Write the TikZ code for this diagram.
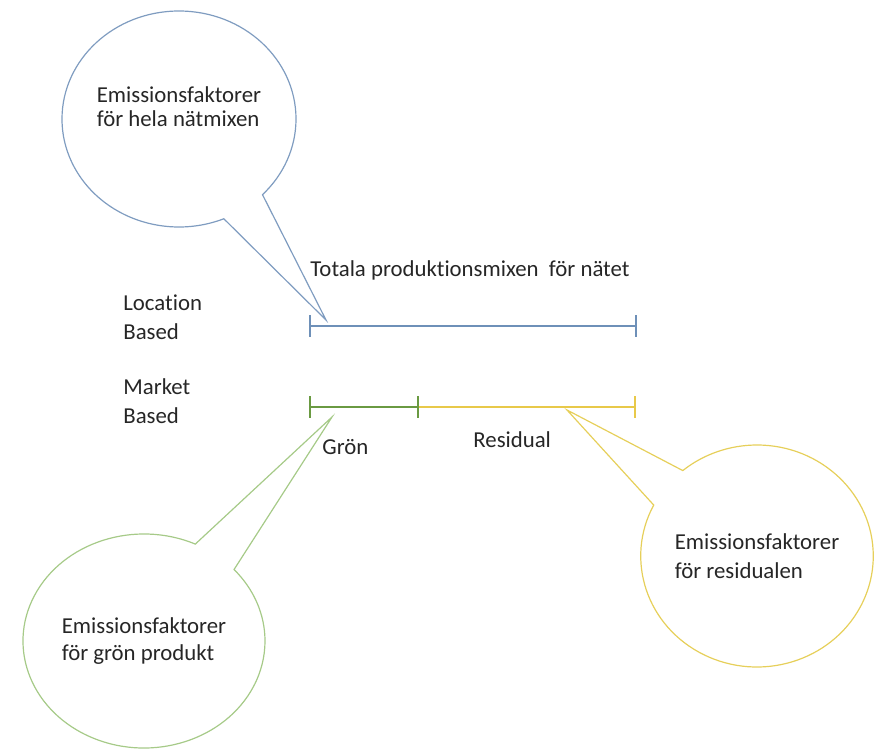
\documentclass[tikz,border=0pt]{standalone}
\usepackage{fontspec}
\setmainfont[Ligatures=NoCommon]{Carlito}
\usetikzlibrary{shapes.callouts}

\definecolor{lineblue}{HTML}{6E90B8}
\definecolor{linegreen}{HTML}{6A9A42}
\definecolor{lineyellow}{HTML}{E8C94A}
\definecolor{bubbleblue}{HTML}{7F9CC0}
\definecolor{bubblegreen}{HTML}{A6CA88}
\definecolor{bubbleyellow}{HTML}{E6CF5A}
\definecolor{textgray}{HTML}{262626}

\tikzset{
  label text/.style={text=textgray, inner sep=0pt, align=left, font=\fontsize{11.4}{14.5}\selectfont},
  bubble/.style={ellipse callout, line width=0.6pt, inner sep=0pt, align=left,
    text=textgray, callout pointer arc=23},
  scale bar/.style={line width=1.4pt}
}

\begin{document}
\begin{tikzpicture}[x=0.5pt, y=-0.5pt]
\useasboundingbox (0,0) rectangle (884,750);

% Location based line (blue)
\coordinate (loc-start) at (310,326);
\coordinate (loc-end) at (636,326);
\draw[scale bar, lineblue] (loc-start) -- (loc-end);
\foreach \p in {loc-start, loc-end} {
    \draw[scale bar, lineblue] ([yshift=5.5pt]\p) -- ([yshift=-5.5pt]\p);
}
\node[label text, anchor=west] (total) at (310,270) {Totala produktionsmixen\ \ för nätet};
\node[label text, anchor=west] (location) at (123,317) {Location\\Based};

% Market based line (green + yellow)
\coordinate (mkt-start) at (310,407);
\coordinate (mkt-split) at (418,407);
\coordinate (mkt-end) at (635,407);
\draw[scale bar, lineyellow] (mkt-split) -- (mkt-end);
\draw[scale bar, lineyellow] ([yshift=5.5pt]mkt-end) -- ([yshift=-5.5pt]mkt-end);
\draw[scale bar, linegreen] (mkt-start) -- (mkt-split);
\foreach \p in {mkt-start, mkt-split} {
    \draw[scale bar, linegreen] ([yshift=5.5pt]\p) -- ([yshift=-5.5pt]\p);
}
\node[label text, anchor=west] (market) at (123,401) {Market\\Based};
\node[label text, anchor=west] (gron) at (322,447) {Grön};
\node[label text, anchor=west] (residual) at (473,440) {Residual};

% Callouts
\coordinate (loc-tip) at (326,320);
\coordinate (green-tip) at (332,417);
\coordinate (res-tip) at (567,410);

\node[bubble, draw=bubbleblue, minimum width=117pt, minimum height=108pt,
      font=\fontsize{11.4}{12}\selectfont, text depth=12pt,
      callout absolute pointer={(loc-tip)}] (bubble-loc) at (179,119)
      {Emissionsfaktorer\\för hela nätmixen};

\node[bubble, draw=bubblegreen, minimum width=121pt, minimum height=107pt,
      font=\fontsize{11.4}{13.5}\selectfont,
      callout absolute pointer={(green-tip)}] (bubble-green) at (144,641)
      {Emissionsfaktorer\\för grön produkt};

\node[bubble, draw=bubbleyellow, minimum width=113pt, minimum height=111pt,
      font=\fontsize{11.4}{14.5}\selectfont,
      callout absolute pointer={(res-tip)}] (bubble-res) at (757,556)
      {Emissionsfaktorer\\för residualen};

\end{tikzpicture}
\end{document}
